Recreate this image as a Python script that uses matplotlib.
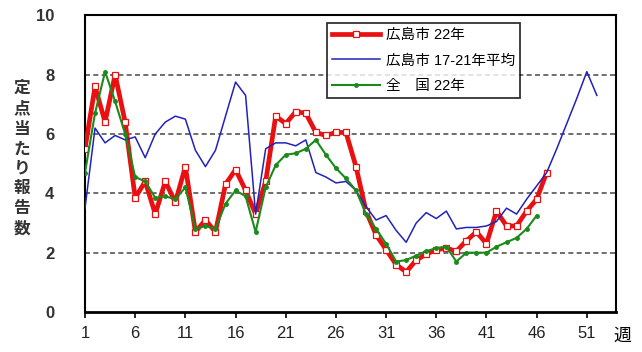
import matplotlib
matplotlib.use("Agg")
import matplotlib.pyplot as plt
import numpy as np

plt.rcParams['font.family'] = ['Liberation Sans', 'Noto Sans CJK JP']

# 広島市 22年 (weeks 1-47)
hiroshima_22 = [5.5, 7.6, 6.4, 8.0, 6.4, 3.85, 4.4, 3.3, 4.4, 3.7,
                4.9, 2.7, 3.1, 2.7, 4.3, 4.8, 4.1, 3.3, 4.4, 6.6,
                6.35, 6.75, 6.7, 6.05, 5.95, 6.05, 6.05, 4.9, 3.4, 2.6,
                2.1, 1.6, 1.35, 1.75, 1.95, 2.1, 2.15, 2.05, 2.4, 2.7,
                2.3, 3.4, 2.9, 2.9, 3.4, 3.8, 4.7]
# 広島市 17-21年平均 (weeks 1-52)
hiroshima_avg = [3.5, 6.2, 5.7, 5.95, 5.8, 5.9, 5.2, 6.0, 6.4, 6.6,
                 6.5, 5.45, 4.9, 5.45, 6.6, 7.75, 7.3, 3.3, 5.5, 5.7,
                 5.7, 5.6, 5.8, 4.7, 4.55, 4.35, 4.4, 4.1, 3.55, 3.1,
                 3.25, 2.75, 2.35, 3.0, 3.35, 3.15, 3.4, 2.8, 2.85, 2.85,
                 2.9, 3.05, 3.5, 3.3, 3.8, 4.25, 4.7, 5.5, 6.35, 7.2,
                 8.1, 7.3]
# 全国 22年 (weeks 1-46)
national_22 = [4.7, 6.7, 8.1, 7.1, 6.0, 4.55, 4.4, 3.85, 3.9, 3.8,
               4.2, 2.8, 2.9, 2.8, 3.65, 4.1, 3.9, 2.7, 4.2, 4.95,
               5.3, 5.35, 5.5, 5.8, 5.3, 4.85, 4.5, 4.1, 3.3, 2.8,
               2.3, 1.7, 1.75, 1.9, 2.05, 2.15, 2.2, 1.7, 2.0, 2.0,
               2.0, 2.2, 2.35, 2.5, 2.8, 3.25]

xticks = [1, 6, 11, 16, 21, 26, 31, 36, 41, 46, 51]

fig = plt.figure(figsize=(6.42, 3.52), dpi=100)
ax = fig.add_axes([0.1324, 0.1136, 0.827, 0.843])

w_red = np.arange(1, len(hiroshima_22) + 1)
w_blue = np.arange(1, len(hiroshima_avg) + 1)
w_green = np.arange(1, len(national_22) + 1)

for y in [2, 4, 6, 8]:
    ax.axhline(y, color='#555555', lw=1.2, ls=(0, (3, 2)), zorder=1)

ax.plot(w_red, hiroshima_22, color='#e81010', lw=3.4, marker='s', ms=4,
        mfc='white', mec='#e81010', mew=0.9, label='広島市 22年', zorder=3)
ax.plot(w_blue, hiroshima_avg, color='#2222bb', lw=1.1,
        label='広島市 17-21年平均', zorder=4)
ax.plot(w_green, national_22, color='#1a8a1a', lw=1.5, marker='o', ms=2.5,
        label='全　国 22年', zorder=5)

ax.set_xlim(1, 53.9)
ax.set_ylim(0, 10)
ax.set_xticks(xticks)
ax.set_xticklabels([str(t) for t in xticks], fontsize=12, color='#222222')
ax.set_yticks([0, 2, 4, 6, 8, 10])
ax.set_yticklabels(['0', '2', '4', '6', '8', '10'], fontsize=12, fontweight='bold', color='#333333')
ax.tick_params(axis='y', length=0, pad=22)
ax.tick_params(axis='x', direction='out', length=4, width=1.2, pad=6)
for s in ax.spines.values():
    s.set_linewidth(1.5)
    s.set_color('black')
ax.spines['bottom'].set_linewidth(2)

fig.text(0.034, 0.55, '\n'.join('定点当たり報告数'), fontsize=12, fontweight='bold',
         ha='center', va='center', linespacing=1.4, color='#333333')
fig.text(0.955, 0.045, '週', fontsize=13, ha='left', va='center')

leg = ax.legend(loc='upper left', bbox_to_anchor=(0.455, 0.975), fontsize=10.5,
                frameon=True, fancybox=False, edgecolor='black', handlelength=3.3,
                borderpad=0.35, labelspacing=0.8, handletextpad=0.4,
                borderaxespad=0)
leg.get_frame().set_linewidth(1.3)

fig.savefig('out.png', dpi=100)
